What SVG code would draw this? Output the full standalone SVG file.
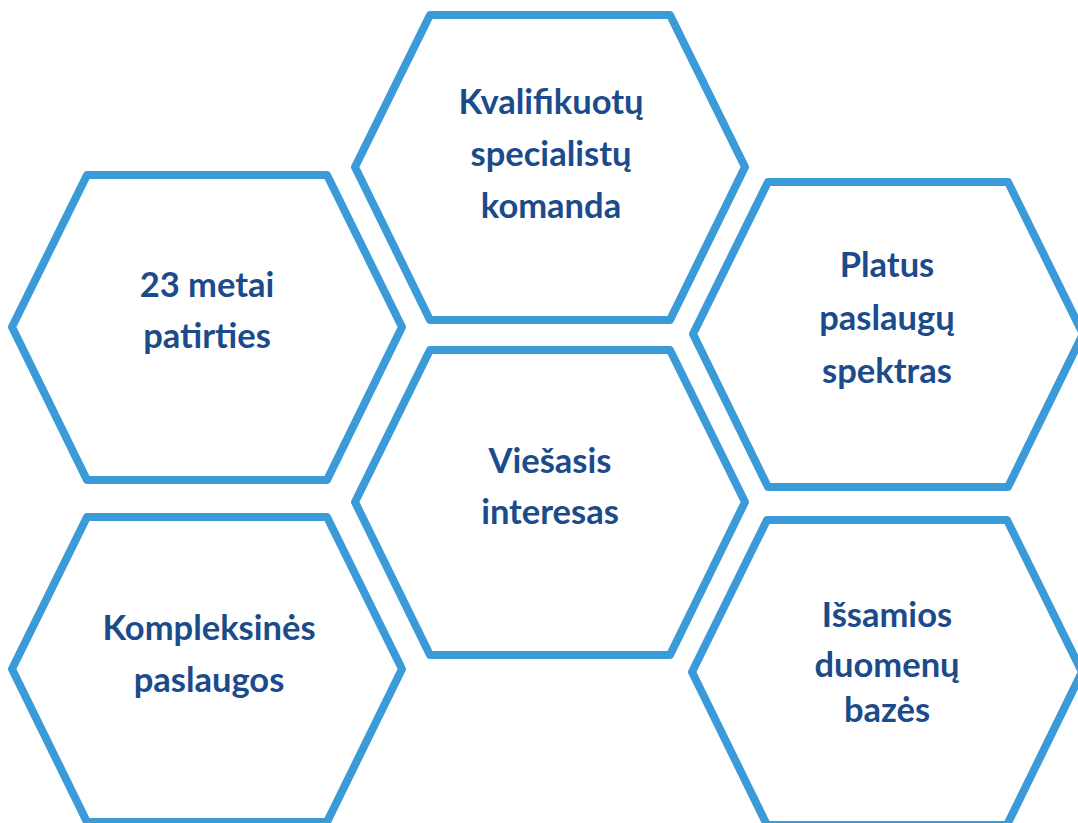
<svg xmlns="http://www.w3.org/2000/svg" width="1078" height="823" viewBox="0 0 1078 823">
  <defs>
    <style>
      .hex { fill: #ffffff; stroke: #3A9BD8; stroke-width: 8; stroke-linejoin: round; }
      .lbl { font-family: Lato, "Open Sans", "Liberation Sans", sans-serif; font-weight: bold; font-size: 34.5px; fill: #1C4B8B; text-anchor: middle; }
    </style>
    <path id="hexshape" d="M0,152 L75,0 L315,0 L390,152 L315,305 L75,305 Z"/>
  </defs>
  <rect width="1078" height="823" fill="#ffffff"/>
  <g id="connectors"></g>
  <g id="node-kvalifikuotu">
    <use href="#hexshape" class="hex" x="355" y="15"/>
    <text class="lbl" x="551" y="114">Kvalifikuotų</text>
    <text class="lbl" x="551" y="166">specialistų</text>
    <text class="lbl" x="551" y="218">komanda</text>
  </g>
  <g id="node-23metai">
    <use href="#hexshape" class="hex" x="12" y="175"/>
    <text class="lbl" x="207" y="297">23 metai</text>
    <text class="lbl" x="207" y="348">patirties</text>
  </g>
  <g id="node-platus">
    <use href="#hexshape" class="hex" x="693" y="182"/>
    <text class="lbl" x="887" y="277">Platus</text>
    <text class="lbl" x="887" y="330">paslaugų</text>
    <text class="lbl" x="887" y="383">spektras</text>
  </g>
  <g id="node-viesasis">
    <use href="#hexshape" class="hex" x="355" y="350"/>
    <text class="lbl" x="550" y="473">Viešasis</text>
    <text class="lbl" x="550" y="524">interesas</text>
  </g>
  <g id="node-kompleksines">
    <use href="#hexshape" class="hex" x="12" y="517"/>
    <text class="lbl" x="209" y="640">Kompleksinės</text>
    <text class="lbl" x="209" y="692">paslaugos</text>
  </g>
  <g id="node-issamios">
    <use href="#hexshape" class="hex" x="692" y="520"/>
    <text class="lbl" x="887" y="627">Išsamios</text>
    <text class="lbl" x="887" y="677">duomenų</text>
    <text class="lbl" x="887" y="722">bazės</text>
  </g>
</svg>
